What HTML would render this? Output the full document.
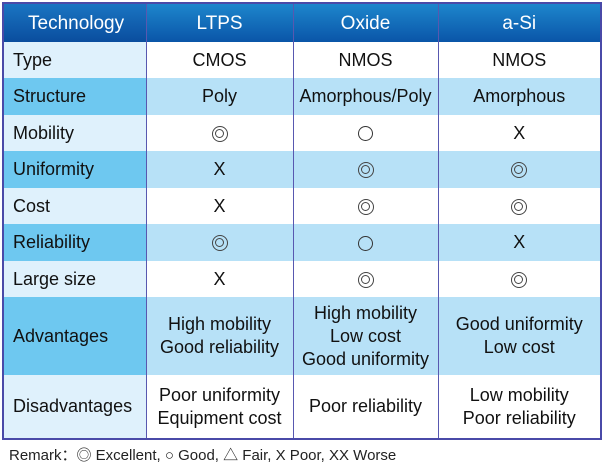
<!DOCTYPE html>
<html><head><style>
body{margin:0;width:602px;height:467px;background:#fff;font-family:"Liberation Sans",Arial,sans-serif;overflow:hidden;position:relative}
table{position:absolute;left:2px;top:2px;width:598px;border-collapse:collapse;table-layout:fixed;border:2px solid #4a4aa8}
td{padding:0;font-size:18px;color:#111;text-align:center;line-height:23px;border-left:1.5px solid #5858b0}
td:first-child{text-align:left;padding-left:9px;border-left:none}
tr.h td{background:linear-gradient(#1d86cc,#0a55a8);color:#fff;font-size:19px;height:38px}
tr.h td:first-child{background:linear-gradient(#1a75c2,#0a4d9e);padding-left:24px}
tr.a td{background:#fff}
tr.a td:first-child{background:#dff1fc}
tr.b td{background:#b7e1f7}
tr.b td:first-child{background:#6ec8f0}
.c{display:inline-block;width:13px;height:13px;border:1.5px solid #333;border-radius:50%;vertical-align:middle}
.e{display:inline-block;width:14px;height:14px;border:1.5px solid #444;border-radius:50%;vertical-align:middle;position:relative}
.e:after{content:"";position:absolute;left:2px;top:2px;width:7px;height:7px;border:1.5px solid #444;border-radius:50%}
</style></head><body>
<table>
<colgroup><col style="width:143px"><col style="width:147px"><col style="width:145px"><col style="width:163px"></colgroup>
<tr class="h"><td>Technology</td><td>LTPS</td><td>Oxide</td><td>a-Si</td></tr>
<tr class="a" style="height:36px"><td>Type</td><td>CMOS</td><td>NMOS</td><td>NMOS</td></tr>
<tr class="b" style="height:37px"><td>Structure</td><td>Poly</td><td>Amorphous/Poly</td><td>Amorphous</td></tr>
<tr class="a" style="height:36px"><td>Mobility</td><td><span class="e"></span></td><td><span class="c"></span></td><td>X</td></tr>
<tr class="b" style="height:37px"><td>Uniformity</td><td>X</td><td><span class="e"></span></td><td><span class="e"></span></td></tr>
<tr class="a" style="height:36px"><td>Cost</td><td>X</td><td><span class="e"></span></td><td><span class="e"></span></td></tr>
<tr class="b" style="height:37px"><td>Reliability</td><td><span class="e"></span></td><td><span class="c"></span></td><td>X</td></tr>
<tr class="a" style="height:36px"><td>Large size</td><td>X</td><td><span class="e"></span></td><td><span class="e"></span></td></tr>
<tr class="b" style="height:78px"><td>Advantages</td><td>High mobility<br>Good reliability</td><td>High mobility<br>Low cost<br>Good uniformity</td><td>Good uniformity<br>Low cost</td></tr>
<tr class="a" style="height:64px"><td>Disadvantages</td><td>Poor uniformity<br>Equipment cost</td><td>Poor reliability</td><td>Low mobility<br>Poor reliability</td></tr>
</table>
<div style="position:absolute;left:9px;top:444px;font-size:15px;color:#222">Remark：◎ Excellent, ○ Good, △ Fair, X Poor, XX Worse</div>
</body></html>
